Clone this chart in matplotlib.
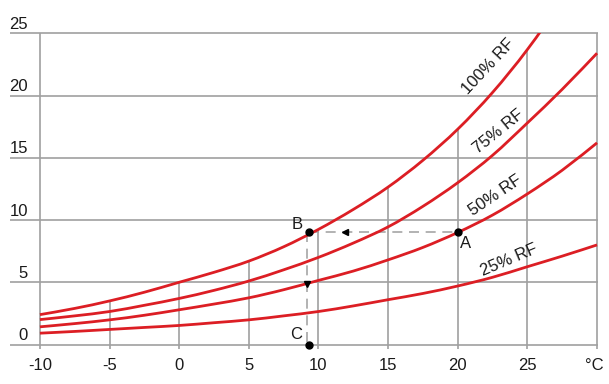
import matplotlib
matplotlib.use("Agg")
import matplotlib.pyplot as plt
from matplotlib.path import Path
from matplotlib.patches import PathPatch

# ---- data ----
temps = [-10, -7.5, -5, -2.5, 0, 2.5, 5, 7.5, 10, 12.5, 15, 17.5, 20, 22.5, 25, 27.5, 30]
rf100 = [2.4, 2.9, 3.5, 4.2, 5.0, 5.8, 6.7, 7.85, 9.25, 10.85, 12.65, 14.8, 17.3, 20.25, 23.7, 27.7, 32.3]
rf75 = [2.0, 2.3, 2.65, 3.15, 3.7, 4.35, 5.1, 6.0, 7.0, 8.15, 9.45, 11.1, 13.0, 15.2, 17.8, 20.5, 23.4]
rf50 = [1.42, 1.68, 1.98, 2.35, 2.79, 3.25, 3.75, 4.4, 5.15, 5.9, 6.8, 7.8, 9.0, 10.4, 12.1, 14.0, 16.2]
rf25 = [0.91, 1.05, 1.21, 1.37, 1.53, 1.75, 1.98, 2.3, 2.65, 3.1, 3.6, 4.1, 4.7, 5.4, 6.25, 7.1, 8.0]
curve_labels = ["100% RF", "75% RF", "50% RF", "25% RF"]
label_pos = [(22.19, 22.31), (22.9, 17.08), (22.71, 11.99), (23.67, 6.81)]
label_rot = [47, 39, 34, 23]
x_ticks = [-10, -5, 0, 5, 10, 15, 20, 25, 30]
x_tick_labels = ["-10", "-5", "0", "5", "10", "15", "20", "25", "°C"]
y_ticks = [0, 5, 10, 15, 20, 25]
point_A = (20, 9.0)
point_B = (9.3, 9.0)
point_C = (9.3, 0.0)

RED = "#dc1e24"
GRID = "#a0a0a0"
TXT = "#1a1a1a"
FONT = "Liberation Sans"
FS = 12

fig = plt.figure(figsize=(6.09, 3.84), dpi=100)
ax = fig.add_axes([10 / 609, (384 - 344.5) / 384, 588 / 609, (344.5 - 33.3) / 384])
XMIN, XMAX = -12.15, 30.07
ax.set_xlim(XMIN, XMAX)
ax.set_ylim(0, 25)
ax.axis("off")


def smooth_path(xs, ys):
    """Catmull-Rom spline through the points, drawn as cubic Bezier segments."""
    pts = list(zip(xs, ys))
    n = len(pts)
    verts = [pts[0]]
    codes = [Path.MOVETO]
    for i in range(n - 1):
        p0 = pts[i - 1] if i > 0 else pts[i]
        p1 = pts[i]
        p2 = pts[i + 1]
        p3 = pts[i + 2] if i + 2 < n else pts[i + 1]
        c1 = (p1[0] + (p2[0] - p0[0]) / 6, p1[1] + (p2[1] - p0[1]) / 6)
        c2 = (p2[0] - (p3[0] - p1[0]) / 6, p2[1] - (p3[1] - p1[1]) / 6)
        verts += [c1, c2, p2]
        codes += [Path.CURVE4] * 3
    return Path(verts, codes)


# horizontal grid lines
ax.hlines(y_ticks, XMIN, XMAX, colors=GRID, linewidth=1.2, clip_on=False, zorder=1)
# vertical grid lines: full at edges, up to 100% curve elsewhere
for xt in x_ticks:
    if xt in (-10, 30):
        top = 25
    else:
        top = min(rf100[temps.index(xt)], 25)
    ax.vlines(xt, -0.35, top, colors=GRID, linewidth=1.2, clip_on=False, zorder=1)

# curves
for vals in (rf100, rf75, rf50, rf25):
    patch = PathPatch(smooth_path(temps, vals), facecolor="none", edgecolor=RED,
                      linewidth=2.0, capstyle="butt", zorder=3)
    ax.add_patch(patch)

# curve labels
for lab, (lx, ly), rot in zip(curve_labels, label_pos, label_rot):
    ax.text(lx, ly, lab, rotation=rot, rotation_mode="anchor", ha="center", va="center",
            fontsize=FS, family=FONT, color=TXT, zorder=5)

# dashed construction lines
ax.plot([point_B[0], point_A[0]], [point_B[1], point_A[1]], color="#a5a5a5", linewidth=1.2,
        linestyle=(0, (6, 4)), zorder=2)
ax.plot([point_B[0] - 0.15, point_C[0] - 0.15], [point_B[1], point_C[1]], color="#a5a5a5", linewidth=1.2,
        linestyle=(0, (6, 4)), zorder=2, clip_on=False)
# arrow heads
ax.plot([11.9], [point_A[1]], marker="<", color="black", markersize=4.5, zorder=6)
ax.plot([point_B[0] - 0.15], [4.9], marker="v", color="black", markersize=4.5, zorder=6)

# points
for p in (point_A, point_B, point_C):
    ax.plot([p[0]], [p[1]], marker="o", color="black", markersize=5, zorder=7, clip_on=False)
ax.text(point_A[0] + 0.15, point_A[1] - 0.25, "A", ha="left", va="top", fontsize=FS, family=FONT, color=TXT)
ax.text(point_B[0] - 0.45, point_B[1] + 0.05, "B", ha="right", va="bottom", fontsize=FS, family=FONT, color=TXT)
ax.text(point_C[0] - 0.45, point_C[1] + 0.2, "C", ha="right", va="bottom", fontsize=FS, family=FONT, color=TXT)

# tick labels
for xt, lab in zip(x_ticks, x_tick_labels):
    ax.text(xt - (0.2 if lab == "°C" else 0), -1.65, lab, ha="center", va="center",
            fontsize=FS, family=FONT, color=TXT, clip_on=False)
for yt in y_ticks:
    ax.text(-10.85, yt + 0.72, str(yt), ha="right", va="center",
            fontsize=FS, family=FONT, color=TXT, clip_on=False)

fig.savefig("out.png", dpi=100, facecolor="white")
